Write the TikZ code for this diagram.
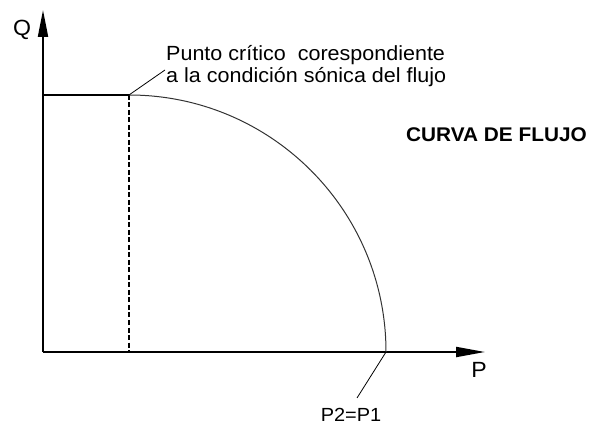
\documentclass[tikz,border=0pt]{standalone}
\usepackage{fontspec}
\setmainfont{Liberation Sans}[FakeStretch=1.05]
\usetikzlibrary{arrows.meta}

\begin{document}
\begin{tikzpicture}[x=1pt, y=-1pt, font=\fontsize{20.5}{22}\selectfont]
	\useasboundingbox (0,0) rectangle (591,427);

	\coordinate (o)    at (43,352);
	\coordinate (qtip) at (43,10);
	\coordinate (ptip) at (485,352);
	\coordinate (qmax) at (43,95);
	\coordinate (crit) at (129,95);
	\coordinate (foot) at (129,352);
	\coordinate (p2)   at (386,352);
	\coordinate (l1)   at (165,70);
	\coordinate (l2)   at (357,398);

	\node[inner sep=0, font=\fontsize{22}{22}\selectfont] (q) at (22,30)   {Q};
	\node[inner sep=0, font=\fontsize{22}{22}\selectfont] (p) at (479,370) {P};
	\node[inner sep=0, font=\fontsize{19}{22}\selectfont] (pp) at (351,415) {P2=P1};
	\node[inner sep=0, anchor=west, align=left]  (punto) at (166,66)  {Punto crítico\ \ corespondiente\\a la condición sónica del flujo};
	\node[inner sep=0, anchor=west, font=\fontsize{19.8}{22}\selectfont\bfseries] (curva) at (406,135) {CURVA DE FLUJO};

	\path [-{Triangle[length=27pt,width=10pt]}, line width=2pt] (o) edge (qtip);
	\path [-{Triangle[length=29pt,width=10pt]}, line width=2pt] (o) edge (ptip);
	\path [-, line width=2pt] (qmax) edge (crit);
	\path [-, line width=2pt, dash pattern=on 5pt off 2.5pt] (crit) edge (foot);
	\draw [line width=1pt, black!80] (crit) arc[start angle=-90, end angle=0, radius=257];
	\path [-, line width=0.8pt] (crit) edge (l1);
	\path [-, line width=0.8pt] (p2) edge (l2);
\end{tikzpicture}
\end{document}
